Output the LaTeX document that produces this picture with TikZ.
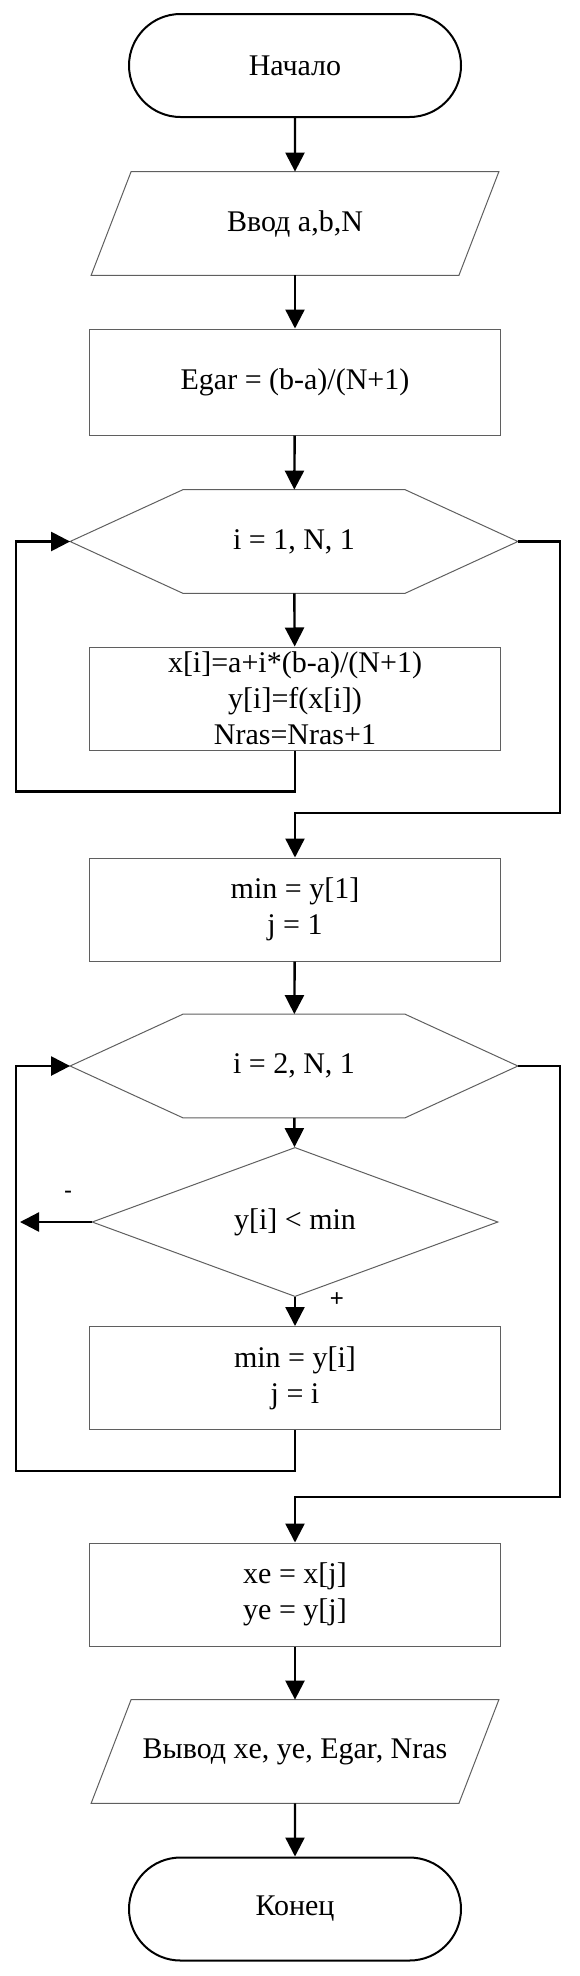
\documentclass[tikz,border=0pt]{standalone}
\usepackage{fontspec}
\setmainfont{Liberation Serif}
\newfontfamily\signfont{Liberation Sans}
\usepackage{tikz}
\usetikzlibrary{shapes.geometric,shapes.misc,arrows.meta,positioning,calc}
\usepackage{xcolor}
\definecolor{blockgray}{RGB}{95,95,95}

\tikzset{
  term/.style={rounded rectangle, draw=black, line width=1pt, minimum width=166pt, minimum height=51.5pt, inner sep=0pt},
  io/.style={rectangle, minimum width=183.5pt, minimum height=51.5pt, inner sep=0pt},
  proc/.style={rectangle, draw=blockgray, line width=0.5pt, minimum width=205.5pt, minimum height=51.5pt, inner sep=0pt, align=center},
  loophead/.style={rectangle, minimum width=223.5pt, minimum height=51.5pt, inner sep=0pt},
  cond/.style={diamond, draw=blockgray, line width=0.5pt, minimum width=203pt, minimum height=50pt, inner sep=0pt},
  outline/.style={draw=blockgray, line width=0.5pt},
  sign/.style={font=\signfont\fontsize{12}{14}\selectfont, inner sep=0pt},
  flow/.style={line width=1.2pt, -{Triangle[length=9.5pt,width=9.5pt]}}
}

\begin{document}
\begin{tikzpicture}[x=0.5pt,y=-0.5pt,font=\fontsize{15}{18}\selectfont]
\useasboundingbox (0,0) rectangle (579,1976);

\node[term] (start) at (295,65.5) {Начало};
\node[io] (input) at (295,223.5) {Ввод a,b,N};
\node[proc, minimum height=53pt] (egar) at (295,382) {Egar = (b-a)/(N+1)};
\node[loophead] (loopa) at (294,541.5) {i = 1, N, 1};
\node[proc] (body) at (295,698.5) {x[i]=a+i*(b-a)/(N+1)\\ y[i]=f(x[i])\\ Nras=Nras+1};
\node[proc] (init) at (295,909.5) {min = y[1]\\ j = 1};
\node[loophead] (loopb) at (294,1066) {i = 2, N, 1};
\node[cond] (test) at (295,1222) {y[i] < min};
\node[proc] (swap) at (295,1378) {min = y[i]\\ j = i};
\node[proc] (res) at (295,1594.5) {xe = x[j]\\ ye = y[j]};
\node[io] (output) at (295,1751.5) {Вывод xe, ye, Egar, Nras};
\node[term] (stop) at (295,1909) {Конец};

% data blocks and loop headers
\foreach \p in {input,output}
  \draw[outline] ([xshift=-10pt]\p.south west) -- ([xshift=10pt]\p.north west)
    -- ([xshift=10pt]\p.north east) -- ([xshift=-10pt]\p.south east) -- cycle;
\foreach \h in {loopa,loopb}
  \draw[outline] (\h.west) -- ([xshift=56.5pt]\h.north west) -- ([xshift=-56.5pt]\h.north east)
    -- (\h.east) -- ([xshift=-56.5pt]\h.south east) -- ([xshift=56.5pt]\h.south west) -- cycle;

\coordinate (lrail) at (16,0);
\coordinate (rrail) at (560,0);
\coordinate (miss) at (20,1222);

\draw[flow] (start) -- (input);
\draw[flow] (input) -- (egar);
\draw[flow] (egar) -- (loopa);
\draw[flow] (loopa) -- (body);
\draw[flow] (body.south) -- ++(0,41) -| (lrail |- loopa.west) -- (loopa.west);
\draw[flow] (loopa.east) -- (rrail |- loopa.east) -- ++(0,271.5) -| (init.north);
\draw[flow] (init) -- (loopb);
\draw[flow] (loopb) -- (test);
\draw[flow] (test.west) -- (miss);
\draw[flow] (test.south) -- (swap.north);
\draw[flow] (swap.south) -- ++(0,41) -| (lrail |- loopb.west) -- (loopb.west);
\draw[flow] (loopb.east) -- (rrail |- loopb.east) -- ++(0,431) -| (res.north);
\draw[flow] (res) -- (output);
\draw[flow] (output) -- (stop);

\node[sign] (minus) at (68,1195) {-};
\node[sign] (plus) at (337,1300) {+};
\end{tikzpicture}
\end{document}
